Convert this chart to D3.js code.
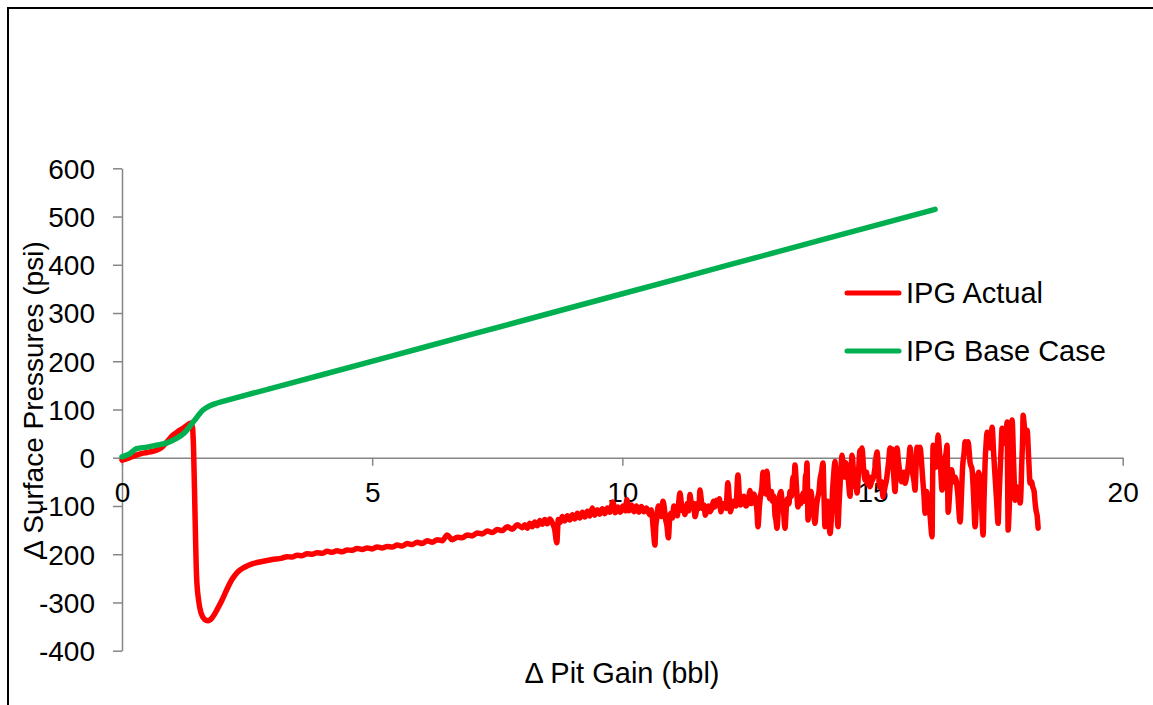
<!DOCTYPE html>
<html>
<head>
<meta charset="utf-8">
<script src="https://cdn.jsdelivr.net/npm/d3@7"></script>
<style>
  html, body { margin: 0; padding: 0; background: #fff; }
  svg { display: block; }
  text { font-family: "Liberation Sans", Arial, sans-serif; fill: #000; }
</style>
</head>
<body>
<svg id="chart" width="1153" height="705"></svg>
<script>
// Axis ticks
const xTicks = [0, 5, 10, 15, 20];
const yTicks = [-400, -300, -200, -100, 0, 100, 200, 300, 400, 500, 600];

// Series names
const seriesNames = ["IPG Actual", "IPG Base Case"];

// IPG Actual: [pit gain (bbl), surface pressure change (psi)]
const actualPoints = [
  [0,-5],[0.1,-2],[0.2,2],[0.3,6],[0.4,9],[0.5,11],[0.6,13],[0.7,16],[0.8,22],[0.9,33],
  [1.0,45],[1.1,53],[1.2,60],[1.3,67],[1.38,72],[1.41,62],[1.43,20],[1.46,-120],[1.49,-245],
  [1.53,-295],[1.58,-322],[1.65,-335],[1.72,-338],[1.8,-332],[1.9,-315],[2.0,-295],[2.1,-272],
  [2.2,-252],[2.3,-238],[2.45,-227],[2.6,-220],[2.8,-215],[3.0,-211],
  [3.2,-208],[3.3,-205],[3.4,-206],[3.5,-202],[3.6,-203],[3.7,-199],[3.8,-200],[3.9,-197],
  [4.0,-198],[4.1,-194],[4.2,-196],[4.3,-193],[4.4,-195],[4.5,-191],[4.6,-192],[4.7,-188],
  [4.8,-190],[4.9,-187],[5.0,-189],[5.1,-185],[5.2,-187],[5.3,-184],[5.4,-185],[5.5,-181],
  [5.6,-183],[5.7,-178],[5.8,-180],[5.9,-175],[6.0,-178],[6.1,-172],[6.2,-175],[6.3,-170],
  [6.4,-172],[6.5,-160],[6.6,-170],[6.7,-165],[6.8,-166],[6.9,-160],[7.0,-162],[7.1,-156],
  [7.2,-158],[7.3,-152],[7.4,-155],[7.5,-149],[7.6,-151],[7.7,-143],[7.8,-148],[7.9,-139],
  [8.0,-145],
  [8.05,-139],[8.10,-146],[8.15,-136],[8.20,-143],[8.25,-133],[8.30,-141],[8.35,-130],
  [8.40,-138],[8.45,-128],[8.50,-137],[8.55,-127],[8.60,-135],[8.65,-150],[8.69,-176],
  [8.72,-128],[8.76,-134],[8.80,-122],[8.85,-131],[8.90,-120],[8.95,-129],[9.00,-118],
  [9.05,-127],[9.10,-115],[9.15,-125],[9.20,-113],[9.25,-123],[9.30,-111],[9.35,-121],
  [9.40,-104],[9.45,-119],[9.50,-108],[9.55,-117],[9.60,-106],[9.65,-116],[9.70,-104],
  [9.75,-113],[9.81,-92],[9.86,-114],[9.91,-102],[9.96,-113],[10.01,-100],[10.06,-110],
  [10.09,-87],[10.13,-110],[10.18,-98],[10.23,-112],[10.28,-100],[10.33,-113],[10.38,-101],
  [10.43,-112],[10.48,-104],
  [10.55,-118],[10.58,-108],[10.62,-150],[10.65,-181],[10.67,-140],[10.69,-125],[10.72,-100],
  [10.75,-110],[10.78,-122],[10.81,-90],[10.84,-105],[10.86,-125],[10.89,-140],[10.92,-166],
  [10.95,-120],[10.97,-115],[11.0,-125],[11.03,-100],[11.06,-112],[11.1,-120],[11.12,-100],
  [11.15,-73],[11.18,-95],[11.2,-110],[11.23,-100],[11.25,-118],[11.28,-108],[11.3,-95],
  [11.33,-110],[11.35,-76],[11.38,-98],[11.4,-105],[11.43,-95],[11.45,-122],[11.48,-110],
  [11.5,-95],[11.53,-105],[11.55,-67],[11.58,-90],[11.6,-105],[11.63,-98],[11.66,-119],
  [11.69,-108],[11.72,-100],[11.75,-112],[11.79,-104],[11.82,-90],[11.85,-102],[11.88,-88],
  [11.91,-98],[11.94,-85],[11.97,-112],[12.0,-100],[12.03,-95],[12.07,-105],[12.11,-52],
  [12.14,-90],[12.16,-112],[12.19,-100],[12.22,-90],[12.27,-100],[12.31,-36],[12.34,-80],
  [12.36,-98],[12.4,-88],[12.43,-80],[12.47,-100],[12.5,-95],[12.53,-80],[12.55,-68],
  [12.58,-95],[12.6,-90],[12.63,-75],[12.66,-85],[12.69,-110],[12.71,-143],[12.74,-100],
  [12.76,-80],[12.79,-60],[12.81,-30],[12.84,-60],[12.86,-75],[12.88,-50],[12.89,-28],
  [12.92,-70],[12.95,-85],[12.98,-70],[13.0,-90],[13.03,-80],[13.05,-118],[13.07,-130],
  [13.09,-146],[13.12,-100],[13.14,-80],[13.17,-70],[13.19,-88],[13.22,-110],[13.25,-146],
  [13.28,-100],[13.3,-85],[13.33,-95],[13.35,-70],[13.38,-80],[13.41,-40],[13.43,-60],
  [13.45,-15],[13.48,-60],[13.51,-102],[13.54,-80],[13.57,-95],[13.59,-85],[13.61,-73],
  [13.64,-90],[13.66,-40],[13.68,-30],[13.69,-11],[13.7,-60],[13.71,-129],[13.73,-110],
  [13.75,-95],[13.77,-70],[13.79,-88],[13.82,-110],[13.85,-136],[13.88,-100],[13.9,-85],
  [13.93,-70],[13.95,-46],[13.98,-30],[14.01,-11],[14.03,-80],[14.05,-143],[14.08,-110],
  [14.1,-90],[14.12,-120],[14.15,-157],[14.18,-120],[14.2,-70],[14.22,-40],[14.25,-8],
  [14.28,-80],[14.31,-143],[14.33,-100],[14.35,-60],[14.37,-20],[14.39,5],[14.42,-30],
  [14.44,-40],[14.46,-10],[14.49,-19],[14.52,-50],[14.55,-80],[14.57,-40],[14.59,5],
  [14.62,-30],[14.64,-60],[14.67,-50],[14.69,-73],[14.72,-30],[14.75,15],[14.77,0],
  [14.79,20],[14.82,-20],[14.85,-46],[14.88,-30],[14.9,-55],[14.93,-40],[14.95,-60],
  [14.98,-50],[15.02,-40],[15.05,-20],[15.09,12],[15.12,-30],[15.14,-60],[15.18,-50],
  [15.21,-81],[15.25,-60],[15.28,-45],[15.32,-10],[15.35,20],[15.37,0],[15.39,18],
  [15.42,-30],[15.45,-70],[15.47,-30],[15.49,20],[15.52,-10],[15.55,-32],[15.58,-50],
  [15.6,-45],[15.63,-30],[15.65,-53],[15.68,-40],[15.71,-20],[15.73,0],[15.75,22],
  [15.78,-10],[15.8,-30],[15.83,-50],[15.85,-67],[15.87,-20],[15.89,22],[15.92,0],
  [15.95,22],[15.98,-10],[16.0,-40],[16.03,-80],[16.05,-115],[16.08,-70],[16.11,-94],
  [16.15,-120],[16.19,-164],[16.2,-60],[16.21,26],[16.24,0],[16.26,-20],[16.29,10],
  [16.31,47],[16.34,10],[16.36,-20],[16.39,-67],[16.42,-40],[16.44,-10],[16.47,10],
  [16.49,26],[16.5,-40],[16.51,-113],[16.55,-60],[16.58,-25],[16.62,-50],[16.65,-40],
  [16.7,-70],[16.75,-133],[16.78,-70],[16.8,-20],[16.83,10],[16.85,33],[16.88,20],
  [16.91,33],[16.95,-10],[16.99,-25],[17.02,-80],[17.05,-143],[17.08,-80],[17.1,-40],
  [17.12,-30],[17.15,-50],[17.18,-100],[17.21,-160],[17.23,-80],[17.25,-10],[17.27,30],
  [17.29,53],[17.32,30],[17.35,20],[17.37,40],[17.39,63],[17.42,10],[17.45,-40],
  [17.48,-90],[17.51,-136],[17.53,-80],[17.55,-30],[17.57,20],[17.59,61],[17.62,40],
  [17.64,30],[17.67,50],[17.69,74],[17.7,-40],[17.71,-150],[17.73,-110],[17.75,-60],
  [17.77,10],[17.79,78],[17.82,-10],[17.85,-88],[17.88,-60],[17.9,-70],[17.93,-80],
  [17.95,-94],[17.97,-60],[17.98,-20],[18.0,40],[18.01,88],[18.03,70],[18.05,50],
  [18.07,55],[18.09,57],[18.12,0],[18.15,-53],[18.18,-50],[18.2,-60],[18.23,-70],
  [18.25,-94],[18.27,-110],[18.29,-120],[18.31,-146]
];

// IPG Base Case: [pit gain (bbl), surface pressure change (psi)]
const basePoints = [
  [0,2],[0.15,8],[0.29,19],[0.5,22],[0.69,26],[0.9,31],[1.09,40],[1.25,52],[1.43,75],
  [1.62,99],[1.78,109],[1.92,114],[2.2,122],[4,172],[6,228],[8,284],[10,340],[12,396],
  [14,452],[16.25,515]
];

const seriesColors = ["#FF0000", "#00B050"];

const svg = d3.select("#chart");
const TICK_FONT = 28;
const LABEL_FONT = 29;

const x = d3.scaleLinear().domain([0, 20]).range([122, 1122.7]);
const y = d3.scaleLinear().domain([-400, 600]).range([650.7, 168.3]);

// outer frame of the chart object
svg.append("rect")
  .attr("x", 8).attr("y", 8)
  .attr("width", 1170).attr("height", 720)
  .attr("fill", "#fff")
  .attr("stroke", "#000")
  .attr("stroke-width", 2);

// y axis
const yAxis = svg.append("g")
  .attr("transform", `translate(${x(0)},0)`)
  .call(d3.axisLeft(y).tickValues(yTicks).tickSize(9).tickPadding(18).tickSizeOuter(0)
        .tickFormat(d => String(d)));

// x axis sits on y = 0
const xAxis = svg.append("g")
  .attr("transform", `translate(0,${y(0)})`)
  .call(d3.axisBottom(x).tickValues(xTicks).tickSize(8).tickPadding(16).tickSizeOuter(0)
        .tickFormat(d => String(d)));

[yAxis, xAxis].forEach(g => {
  g.select(".domain").attr("stroke", "#868686").attr("stroke-width", 1.5);
  g.selectAll(".tick line").attr("stroke", "#868686").attr("stroke-width", 1.5);
  g.selectAll(".tick text")
    .attr("fill", "#000")
    .style("font-family", '"Liberation Sans", Arial, sans-serif')
    .style("font-size", TICK_FONT + "px");
});
yAxis.selectAll(".tick text").attr("dy", "0.35em");

// series lines
const line = d3.line()
  .x(d => x(d[0]))
  .y(d => y(d[1]))
  .curve(d3.curveMonotoneX);

[actualPoints, basePoints].forEach((pts, i) => {
  svg.append("path")
    .datum(pts)
    .attr("fill", "none")
    .attr("stroke", seriesColors[i])
    .attr("stroke-width", 5.5)
    .attr("stroke-linejoin", "round")
    .attr("stroke-linecap", "round")
    .attr("d", line);
});

// axis titles
svg.append("text")
  .attr("x", 622).attr("y", 683)
  .attr("text-anchor", "middle")
  .style("font-size", LABEL_FONT + "px")
  .text("Δ Pit Gain (bbl)");

svg.append("text")
  .attr("transform", "translate(43,400) rotate(-90)")
  .attr("text-anchor", "middle")
  .style("font-size", TICK_FONT + "px")
  .text("Δ Surface Pressures (psi)");

// legend
const legend = svg.append("g");
seriesNames.forEach((name, i) => {
  const ly = 293 + i * 58;
  legend.append("line")
    .attr("x1", 847).attr("x2", 899)
    .attr("y1", ly).attr("y2", ly)
    .attr("stroke", seriesColors[i])
    .attr("stroke-width", 5)
    .attr("stroke-linecap", "round");
  legend.append("text")
    .attr("x", 906).attr("y", ly + 10)
    .style("font-size", LABEL_FONT + "px")
    .text(name);
});
</script>
</body>
</html>
